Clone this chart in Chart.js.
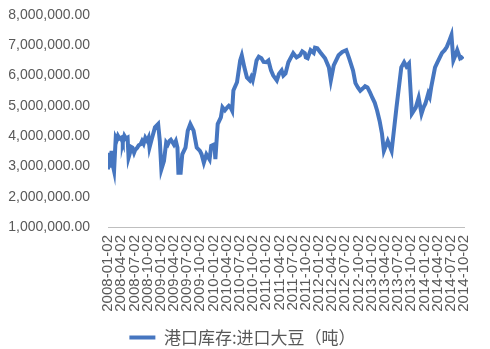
<!DOCTYPE html>
<html lang="zh">
  <head>
    <meta charset="UTF-8" />
    <title>港口库存:进口大豆</title>
    <script src="https://cdn.jsdelivr.net/npm/chart.js"></script>
    <style>
      html, body { margin: 0; padding: 0; background: #fff; }
      #wrap { width: 490px; height: 349px; }
    </style>
  </head>
  <body>
    <div id="wrap"><canvas id="stock-chart" width="490" height="349"></canvas></div>
    <script>
      // months since 2008-01-02
      const monthPos = [
        0, 0.29, 0.45, 0.81, 1.03, 1.38, 1.76, 2.0, 2.26, 2.6,
        3.01, 3.2, 3.36, 3.73, 4.1, 4.46, 4.68, 5.0, 5.2, 5.55,
        5.93, 6.2, 6.65, 7.0, 7.4, 7.75, 8.1, 8.49, 8.9, 9.22,
        9.44, 9.94, 10.69, 11.41, 11.79, 12.14, 12.73, 13.24, 13.6, 13.98,
        14.3, 14.71, 15.0, 15.43, 15.8, 16.02, 16.53, 16.9, 17.63, 18.15,
        18.72, 19.47, 20.19, 20.92, 21.29, 21.8, 22.39, 23.11, 23.49, 24.21,
        24.43, 24.96, 25.68, 26.05, 26.6, 27.15, 27.5, 27.88, 28.25, 28.53,
        29.35, 30.07, 30.44, 31.01, 31.61, 32.27, 32.6, 32.92, 33.3, 33.8,
        34.3, 34.9, 35.4, 36.0, 36.5, 37.09, 37.6, 38.41, 38.9, 39.51,
        39.9, 40.39, 41.04, 42.14, 42.9, 43.68, 44.2, 44.78, 45.0, 45.43,
        46.09, 46.8, 47.1, 47.63, 48.29, 49.38, 50.26, 50.7, 51.36, 52.46,
        53.3, 54.21, 54.87, 55.75, 56.3, 56.85, 57.4, 57.95, 58.5, 59.04,
        59.6, 60.14, 60.7, 61.24, 61.8, 62.34, 62.77, 63.65, 64.53, 65.63,
        66.73, 67.38, 67.9, 68.48, 69.14, 70.02, 70.68, 71.33, 71.8, 72.21,
        72.87, 73.2, 73.53, 74.41, 75.0, 75.5, 76.0, 76.6, 77.1, 77.7,
        78.14, 78.58, 79.0, 79.46, 79.8, 80.11, 80.4, 80.77
      ];
      // tonnes
      const stockTons = [
        2900000, 3450000, 2960000, 3510000, 3080000, 2850000, 3950000, 3880000, 4010000, 3920000,
        3950000, 3850000, 3790000, 4010000, 3920000, 3950000, 3290000, 3450000, 3650000, 3620000,
        3450000, 3550000, 3620000, 3700000, 3730000, 3840000, 3750000, 3950000, 3850000, 3950000,
        3620000, 3900000, 4290000, 4400000, 3840000, 2900000, 3180000, 3790000, 3720000, 3840000,
        3880000, 3790000, 3720000, 3840000, 3620000, 2790000, 2790000, 3400000, 3620000, 4180000,
        4400000, 4180000, 3620000, 3510000, 3400000, 3120000, 3400000, 3230000, 3680000, 3730000,
        3240000, 4400000, 4620000, 4950000, 4850000, 4950000, 5000000, 4950000, 4840000, 5510000,
        5780000, 6500000, 6670000, 6280000, 5940000, 5840000, 5950000, 5840000, 6100000, 6500000,
        6620000, 6570000, 6450000, 6440000, 6500000, 6170000, 6000000, 5840000, 6050000, 6170000,
        6000000, 6070000, 6440000, 6740000, 6600000, 6670000, 6800000, 6740000, 6600000, 6570000,
        6840000, 6750000, 6920000, 6900000, 6770000, 6570000, 6270000, 5840000, 6340000, 6670000,
        6780000, 6840000, 6570000, 6170000, 5750000, 5610000, 5500000, 5570000, 5650000, 5610000,
        5450000, 5270000, 5100000, 4840000, 4500000, 4080000, 3510000, 3840000, 3510000, 4940000,
        6270000, 6440000, 6300000, 6400000, 4740000, 4940000, 5270000, 4740000, 4950000, 5070000,
        5410000, 5300000, 5610000, 6270000, 6450000, 6600000, 6750000, 6840000, 6950000, 7170000,
        7340000, 6500000, 6650000, 6840000, 6700000, 6570000, 6600000, 6540000
      ];
      const yTicks = [1000000, 8000000, 1000000]; // min, max, step
      const seriesName = "港口库存:进口大豆（吨）";

      const points = monthPos.map((m, i) => ({ x: m, y: stockTons[i] }));

      new Chart(document.getElementById("stock-chart"), {
        type: "line",
        data: {
          datasets: [
            {
              label: seriesName,
              data: points,
              borderColor: "#4676C0",
              backgroundColor: "#4676C0",
              borderWidth: 4,
              pointRadius: 0,
              tension: 0,
            },
          ],
        },
        options: {
          responsive: false,
          animation: false,
          layout: { padding: { top: 15, left: 0, right: 5, bottom: -7 } },
          plugins: {
            tooltip: { enabled: false },
            legend: {
              position: "bottom",
              labels: {
                usePointStyle: true,
                pointStyle: "line",
                pointStyleWidth: 26,
                padding: 5,
                color: "#595959",
                font: { family: "'Noto Sans CJK SC', sans-serif", size: 17 },
              },
            },
          },
          scales: {
            x: {
              type: "linear",
              min: 0,
              max: 81,
              grid: { display: false, drawTicks: false },
              border: { display: true, color: "#BFBFBF", width: 1 },
              ticks: {
                stepSize: 3,
                autoSkip: false,
                maxRotation: 90,
                minRotation: 90,
                padding: 8,
                color: "#595959",
                font: { family: "'Liberation Sans', sans-serif", size: 15 },
                callback: (v) => {
                  const y = 2008 + Math.floor(v / 12);
                  const m = (v % 12) + 1;
                  return y + "-" + String(m).padStart(2, "0") + "-02";
                },
              },
              afterFit: (s) => { s.height = 97; },
            },
            y: {
              min: yTicks[0],
              max: yTicks[1],
              grid: { display: false, drawTicks: false },
              border: { display: false },
              ticks: {
                stepSize: yTicks[2],
                padding: 18,
                color: "#595959",
                font: { family: "'Liberation Sans', sans-serif", size: 14 },
                callback: (v) =>
                  v.toLocaleString("en-US", { minimumFractionDigits: 2, maximumFractionDigits: 2 }),
              },
              afterFit: (s) => {
                s.width = 108;
                s.paddingTop = 0;
                s.paddingBottom = 0;
              },
            },
          },
        },
      });
    </script>
  </body>
</html>
